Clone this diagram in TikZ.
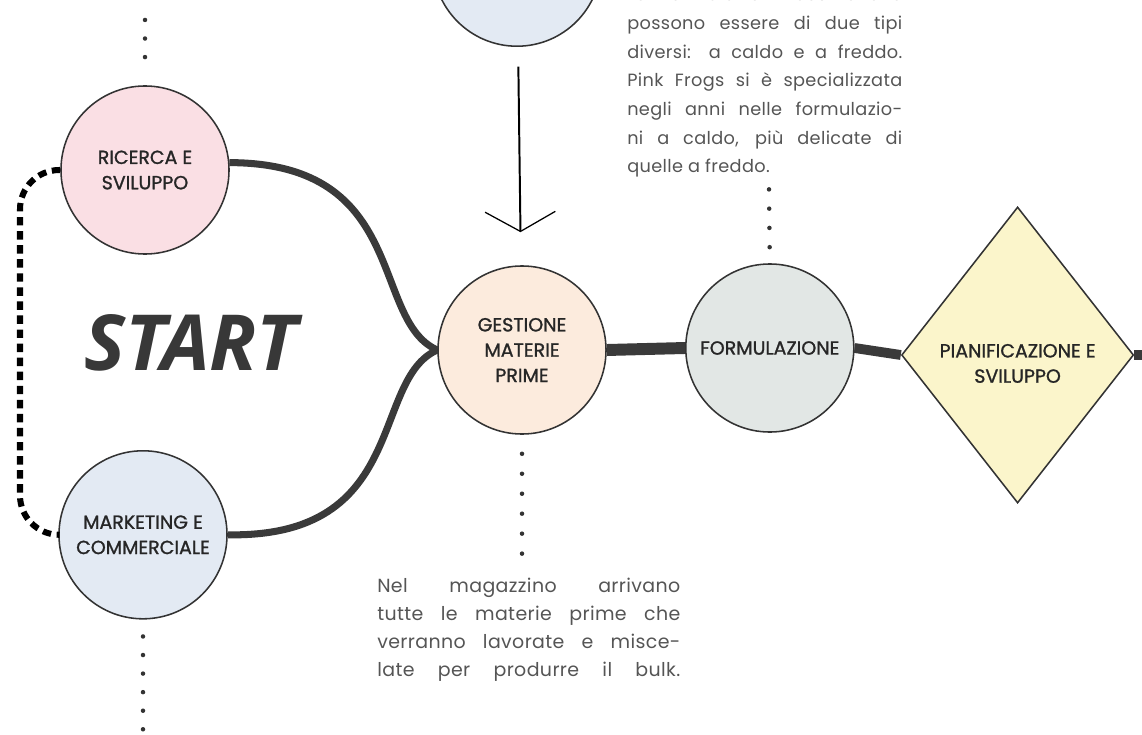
\documentclass[tikz,border=0pt]{standalone}
\usepackage{fontspec}
\setmainfont{Poppins}
\newfontfamily\startfont{Open Sans}
\newfontfamily\etichettafont{Poppins}[FakeBold=1.2]
\newfontfamily\notefont{Poppins}[LetterSpace=2]
\usepackage{tikz}
\usetikzlibrary{arrows.meta,positioning,shapes.geometric}
\definecolor{rosaFill}{HTML}{FADFE4}
\definecolor{bluFill}{HTML}{E3EAF3}
\definecolor{pescaFill}{HTML}{FCEBDD}
\definecolor{grigioFill}{HTML}{E2E7E5}
\definecolor{gialloFill}{HTML}{FBF5CB}
\definecolor{lineaScura}{HTML}{3A3A3A}
\definecolor{testoGrigio}{HTML}{555555}
\tikzstyle{etichetta}=[align=center, text=black!85, font=\etichettafont\fontsize{13.5}{18}\selectfont]
\tikzstyle{fase}=[etichetta, circle, draw=black!80, line width=1.1pt, minimum size=4.2cm,
inner sep=0pt]
\tikzstyle{faseRosa} = [fase, fill=rosaFill]
\tikzstyle{faseBlu} = [fase, fill=bluFill]
\tikzstyle{fasePesca} = [fase, fill=pescaFill]
\tikzstyle{faseGrigia} = [fase, fill=grigioFill]
\tikzstyle{decisione} = [diamond, draw=black!80, line width=1.1pt, minimum width=5.8cm,
minimum height=7.4cm, inner sep=0pt, fill=gialloFill]
\tikzstyle{titolo} = [text=black!78, font=\startfont\bfseries\itshape\fontsize{55}{60}\selectfont]
\tikzstyle{nota} = [inner sep=0pt, align=justify, text=testoGrigio]
\tikzstyle{line} = [draw, line width=5pt, color=lineaScura]
\tikzstyle{ritorno} = [draw, line width=4.3pt, color=black, dash pattern=on 6pt off 4pt,
rounded corners=28pt]
\tikzstyle{puntini} = [draw, line width=3.2pt, line cap=round, color=black!80]
\tikzstyle{freccia} = [draw, line width=1.4pt, color=black,
-{Straight Barb[length=14pt,width=50pt,line width=0.9pt]}]
\newcommand{\fase}[3]{node (p#1)[#2]{#3}}

\begin{document}
\begin{tikzpicture}[x=0.025cm,y=-0.025cm]
		\useasboundingbox (0,0) rectangle (1142,735);
		\clip (0,0) rectangle (1142,735);
		
		% Draw diagram elements
		\path (522,350) \fase{3}{fasePesca}{GESTIONE\\MATERIE\\PRIME};
		\path (p3.north)+(-5,-303) \fase{0}{faseBlu}{};
		\path (145,170) \fase{1}{faseRosa}{RICERCA E\\SVILUPPO};
		\path (p1.south)+(-2,280) \fase{2}{faseBlu}{MARKETING E\\COMMERCIALE};
		\path (p3.east)+(163,-2) \fase{4}{faseGrigia}{FORMULAZIONE};
		\path (p4.east)+(163,7) node (p5)[decisione,
		label={[etichetta, yshift=-6pt]center:PIANIFICAZIONE E\\SVILUPPO}]{};
		
		\node [titolo, anchor=base] (start) at (191,370) {START};
		
		\node [nota, anchor=north west, text width=7.575cm,
		font=\notefont\fontsize{13.5}{19.9}\selectfont] (n1) at (377,578)
		{Nel magazzino arrivano\linebreak tutte le materie prime che\linebreak
			verranno lavorate e misce-\linebreak late per produrre il bulk.\parfillskip=0pt\par};
		\node [nota, anchor=north west, text width=6.875cm,
		font=\notefont\fontsize{12.6}{20.4}\selectfont] (n2) at (627,-13)
		{Le formulazioni cosmetiche\linebreak possono essere di due tipi\linebreak
			diversi: a caldo e a freddo.\linebreak Pink Frogs si è specializzata\linebreak
			negli anni nelle formulazio-\linebreak ni a caldo, più delicate di\linebreak
			quelle a freddo.};
		
		\coordinate (uscita) at (1165,355);
		\coordinate (lato) at (20,350);
		\coordinate (d1) at (145,19);
		\coordinate (d2) at (143,732);
		\coordinate (d3) at (522,555);
		\coordinate (d4) at (769,189);
		
		% Draw lines between elements
		\path [line] (p1.5) .. controls (410,163) and (370,320) .. (p3.west);
		\path [line] (p2.east) .. controls (410,538) and (370,380) .. (p3.west);
		\path [line, line width=8.5pt] (p3.east) -- (p4.west);
		\path [line, line width=7pt] (p4.east) -- (p5.west);
		\path [line, line width=7pt] (p5.east) -- (uscita);
		\path [ritorno] (p1.west) -| (lato) |- (p2.west);
		\path [freccia, shorten <=14pt, shorten >=23.5pt] (p0) -- (p3);
		
		% dotted leaders
		\path [puntini, dash pattern=on 0pt off 13.2pt, shorten <=20pt] (p1.north) -- (d1);
		\path [puntini, dash pattern=on 0pt off 13.2pt, shorten <=12pt] (p2.south) -- (d2);
		\path [puntini, dash pattern=on 0pt off 14.2pt, shorten <=13.5pt] (p3.south) -- (d3);
		\path [puntini, dash pattern=on 0pt off 13.7pt, shorten <=11.4pt] (p4.north) -- (d4);
		
\end{tikzpicture}
\end{document}
